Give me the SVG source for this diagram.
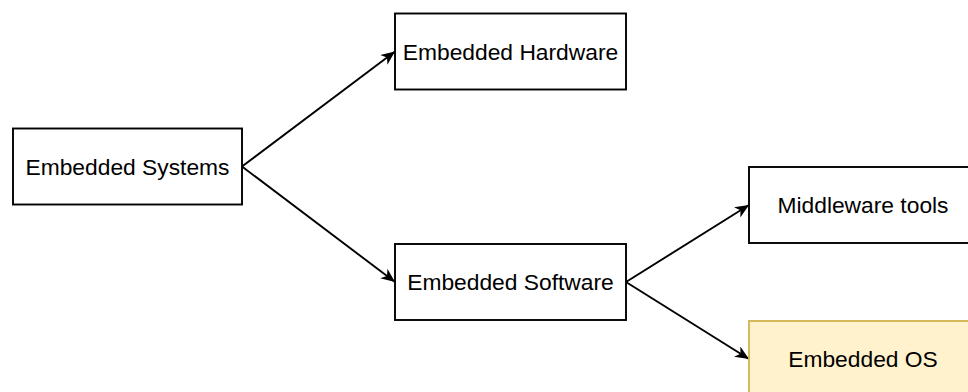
<svg xmlns="http://www.w3.org/2000/svg" width="968" height="392" viewBox="0 0 968 392">
  <style>
    .box { fill: #ffffff; stroke: #000000; stroke-width: 1.9; }
    .box.accent { fill: #fff2cc; stroke: #d6b656; }
    .label { font-family: "Liberation Sans", Arial, Helvetica, sans-serif; font-size: 22.8px; fill: #000000; text-anchor: middle; dominant-baseline: central; }
    .edge { fill: none; stroke: #000000; stroke-width: 1.9; marker-end: url(#arrow); }
  </style>
  <defs>
    <marker id="arrow" markerUnits="userSpaceOnUse" viewBox="0 0 14 12" refX="14" refY="6" markerWidth="14" markerHeight="12" orient="auto">
      <path d="M0,0 L14,6 L0,12 L4,6 z" fill="#000000"/>
    </marker>
  </defs>
  <rect width="968" height="392" fill="#ffffff"/>

  <g id="connectors">
    <path class="edge" d="M242,166.5 L395,51.5"/>
    <path class="edge" d="M242,166.5 L395,282"/>
    <path class="edge" d="M626,282 L749,205"/>
    <path class="edge" d="M626,282 L749,359"/>
  </g>

  <g id="embedded-systems">
    <rect class="box" x="13" y="128.5" width="229" height="76"/>
    <text class="label" x="127.5" y="166.5">Embedded Systems</text>
  </g>
  <g id="embedded-hardware">
    <rect class="box" x="395" y="13.5" width="231" height="76"/>
    <text class="label" x="510.5" y="51.5">Embedded Hardware</text>
  </g>
  <g id="embedded-software">
    <rect class="box" x="395" y="244" width="231" height="76"/>
    <text class="label" x="510.5" y="282">Embedded Software</text>
  </g>
  <g id="middleware-tools">
    <rect class="box" x="749" y="167" width="228" height="76"/>
    <text class="label" x="863" y="205">Middleware tools</text>
  </g>
  <g id="embedded-os">
    <rect class="box accent" x="749" y="321" width="228" height="76"/>
    <text class="label" x="863" y="359">Embedded OS</text>
  </g>
</svg>
